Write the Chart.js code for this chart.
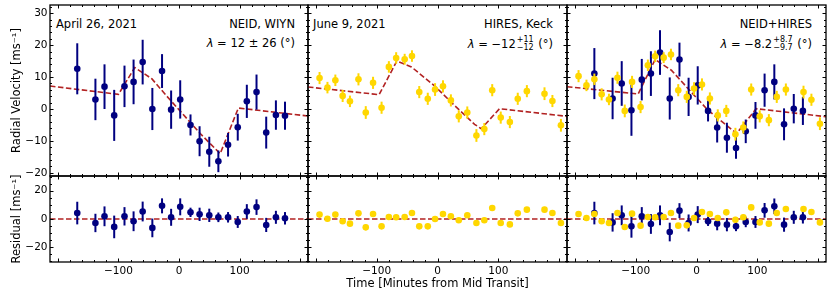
<!DOCTYPE html>
<html>
<head>
<meta charset="utf-8">
<script src="https://cdn.jsdelivr.net/npm/chart.js@4.4.1/dist/chart.umd.min.js"></script>
<style>
  body { margin: 0; background: #fff; }
  #wrap { position: relative; width: 830px; height: 296px; overflow: hidden; font-family: "DejaVu Sans", sans-serif; }
  #wrap canvas { position: absolute; }
  .note { position: absolute; font-size: 11.5px; line-height: 14px; color: #000; white-space: nowrap; }
  .frac { display: inline-flex; flex-direction: column; font-size: 8px; line-height: 8px; vertical-align: middle; margin: 0 1px; }
</style>
</head>
<body>
<div id="wrap">
  <div class="note" style="left:56px;top:17px">April 26, 2021</div>
  <div class="note" style="right:535px;top:17px">NEID, WIYN</div>
  <div class="note" style="right:535px;top:36px"><i>λ</i> = 12 ± 26 (°)</div>

  <div class="note" style="left:313px;top:17px">June 9, 2021</div>
  <div class="note" style="right:277px;top:17px">HIRES, Keck</div>
  <div class="note" style="right:277px;top:36px"><i>λ</i> = −12<span class="frac"><span>+11</span><span>−12</span></span> (°)</div>

  <div class="note" style="right:18px;top:17px">NEID+HIRES</div>
  <div class="note" style="right:18px;top:36px"><i>λ</i> = −8.2<span class="frac"><span>+8.7</span><span>−9.7</span></span> (°)</div>
</div>
<script>
// ---- data ----
const xMin = -213, xMax = 213;
const rvMin = -21, rvMax = 32.6;
const resMin = -30.4, resMax = 30.4;
const xTicks = [-100, 0, 100];
const rvTicks = [-20, -10, 0, 10, 20, 30];
const resTicks = [-20, 0, 20];

// NEID (April 26, 2021)
const neidTime = [-168, -138, -123, -107, -90, -75, -60, -44, -28, -13, 2, 19, 34, 50, 65, 81, 97, 112, 128, 144, 160, 175];
const neidRV = [12.6, 3.0, 7.0, -2.0, 7.1, 8.5, 14.7, 0.0, 11.9, -0.2, 3.0, -5.0, -10.1, -13.4, -16.4, -11.2, -5.7, 2.4, 5.3, -7.4, -1.9, -2.1];
const neidErr = [8.0, 6.5, 7.0, 8.0, 6.5, 7.0, 7.0, 6.6, 5.3, 6.0, 6.0, 3.3, 4.7, 4.7, 3.4, 3.7, 4.2, 5.2, 5.5, 5.0, 4.6, 4.4];
const neidResid = [4.2, -2.8, 1.9, -5.6, 1.9, -1.6, 5.3, -6.3, 9.3, 1.2, 8.6, 4.7, 3.3, 2.6, 1.2, 1.2, -2.1, 5.3, 8.4, -4.2, 1.2, 0.5];
// NEID in the joint fit
const neidRVJoint = [11.1, 3.3, 8.0, -0.4, 9.2, 11.1, 17.7, 3.3, 15.5, 3.8, 7.4, -0.6, -5.8, -9.0, -12.2, -7.0, -2.0, 5.9, 8.5, -4.8, 0.1, -0.6];
const neidResidJoint = [4.2, -2.4, 2.6, -5.2, 1.9, -3.5, 2.6, -9.2, 5.9, -2.8, 3.1, -1.6, -3.3, -4.0, -5.2, -2.1, -2.1, 6.1, 9.0, -4.0, 1.2, 1.2];

// HIRES (June 9, 2021)
const hiresTime = [-194, -181, -168, -156, -144, -130, -118, -106, -92, -80, -68, -54, -42, -30, -16, -4, 9, 22, 35, 49, 64, 77, 90, 104, 119, 132, 147, 176, 189, 203];
const hiresRV = [9.7, 6.7, 9.0, 4.1, 2.4, 9.3, -1.1, 8.2, 0.4, 13.2, 16.0, 15.6, 16.6, 5.3, 3.2, 6.1, 7.1, 2.7, -2.3, -1.1, -8.3, -6.3, 5.9, -2.7, -4.1, 3.2, 5.6, 4.8, 2.5, -5.1];
const hiresErr = [1.9, 1.8, 1.8, 1.9, 1.8, 1.9, 2.0, 1.9, 1.9, 1.8, 1.8, 1.7, 1.8, 1.9, 1.9, 2.0, 1.9, 1.9, 1.9, 1.9, 2.0, 1.9, 1.9, 1.9, 1.9, 1.9, 1.9, 2.0, 1.9, 2.0];
const hiresResid = [3.1, 0.2, 3.1, -1.6, -3.3, 4.0, -5.9, 3.5, -5.2, 1.4, 1.2, 1.4, 4.2, -5.2, -5.2, 0.0, 3.5, 1.9, -0.9, 2.6, -2.8, -0.9, 7.8, -2.8, -3.8, 4.0, 6.6, 6.6, 4.2, -2.8];
// HIRES in the joint fit
const hiresRVJoint = [10.3, 7.4, 9.3, 4.6, 3.0, 9.8, -0.6, 8.5, 0.6, 13.7, 16.5, 16.1, 17.1, 5.9, 3.8, 6.4, 7.7, 3.3, -2.0, -0.6, -7.9, -5.8, 6.1, -2.3, -3.5, 3.8, 6.1, 5.3, 2.9, -4.6];
const hiresResidJoint = [3.5, 0.7, 3.5, -1.6, -2.8, 4.2, -5.7, 3.8, -4.7, 1.4, 1.2, 1.4, 4.2, -4.7, -4.5, 0.7, 4.9, 3.5, 0.7, 4.7, -0.5, 1.2, 8.2, -2.4, -3.3, 4.2, 7.1, 7.1, 4.9, -2.4];

// best-fit RM models (dashed)
const modelNeidT = [-213, -100, -73, -45, -20, 5, 35, 68, 98, 213];
const modelNeidV = [7.2, 4.6, 13.0, 9.5, 4.0, -1.3, -7.7, -14.0, 0.3, -2.2];
const modelHiresT = [-213, -96, -67, -43, -4, 28, 61, 72, 102, 213];
const modelHiresV = [6.9, 4.5, 15.0, 13.2, 7.1, 1.1, -4.8, -6.2, 0.1, -2.3];
const modelJointT = [-213, -96, -68, -41, -14, 19, 46, 66, 98, 213];
const modelJointV = [7.0, 4.7, 15.5, 12.1, 6.4, -0.4, -4.6, -7.7, 0.1, -2.4];
const zeroT = [-213, 213];
const zeroV = [0, 0];

const NAVY = '#000080', GOLD = '#FFD700', RED = '#B22222';

const pts = (ts, vs) => ts.map((t, i) => ({ x: t, y: vs[i] }));
const fmt = v => (v < 0 ? '\u2212' + Math.abs(v) : String(v));

const model = (ts, vs) => ({
  data: pts(ts, vs), showLine: true, borderColor: RED, borderWidth: 1.6,
  borderDash: [5.5, 2.5], pointRadius: 0, order: 3
});
const obs = (ts, vs, es, color, order) => ({
  data: pts(ts, vs), errors: es, backgroundColor: color, borderWidth: 0,
  pointRadius: 3.3, order: order
});

// vertical error bars, drawn under each dataset's own points
const errorBars = {
  id: 'errorBars',
  beforeDatasetDraw(chart, args) {
    const ds = chart.data.datasets[args.index];
    if (!ds.errors) return;
    const { ctx, chartArea: a, scales: { x, y } } = chart;
    ctx.save();
    ctx.beginPath();
    ctx.rect(a.left, a.top, a.width, a.height);
    ctx.clip();
    ctx.strokeStyle = ds.backgroundColor;
    ctx.lineWidth = 2;
    ds.data.forEach((p, i) => {
      const px = x.getPixelForValue(p.x);
      ctx.beginPath();
      ctx.moveTo(px, y.getPixelForValue(p.y - ds.errors[i]));
      ctx.lineTo(px, y.getPixelForValue(p.y + ds.errors[i]));
      ctx.stroke();
    });
    ctx.restore();
  }
};

// black frame with inward major/minor ticks on all sides
const frameTicks = {
  id: 'frameTicks',
  afterDraw(chart, args, o) {
    const { ctx, chartArea: a, scales: { x, y } } = chart;
    ctx.save();
    ctx.strokeStyle = '#000';
    ctx.lineWidth = 1;
    ctx.beginPath();
    for (let v = Math.ceil(x.min / o.xMinor) * o.xMinor; v <= x.max; v += o.xMinor) {
      const px = Math.round(x.getPixelForValue(v)) + 0.5;
      const len = Math.abs(v % o.xMajor) < 1e-6 ? 3.5 : 2;
      ctx.moveTo(px, a.bottom); ctx.lineTo(px, a.bottom - len);
      ctx.moveTo(px, a.top); ctx.lineTo(px, a.top + len);
    }
    for (let v = Math.ceil(y.min / o.yMinor) * o.yMinor; v <= y.max; v += o.yMinor) {
      const py = Math.round(y.getPixelForValue(v)) + 0.5;
      const len = Math.abs(v % o.yMajor) < 1e-6 ? 3.5 : 2;
      ctx.moveTo(a.left, py); ctx.lineTo(a.left + len, py);
      ctx.moveTo(a.right, py); ctx.lineTo(a.right - len, py);
    }
    ctx.stroke();
    ctx.lineWidth = 1.3;
    ctx.strokeRect(a.left, a.top, a.width, a.height);
    ctx.restore();
  }
};

const tickFont = { family: 'DejaVu Sans', size: 10.5 };
const titleFont = { family: 'DejaVu Sans', size: 11.5 };
const noPad = s => { s.paddingTop = 0; s.paddingBottom = 0; s.paddingLeft = 0; s.paddingRight = 0; };

// col: chart-area left/right; row: chart-area top/bottom
const cols = [{ l: 50, r: 308, ml: 50 }, { l: 308, r: 567, ml: 4 }, { l: 567, r: 826, ml: 4 }];
const rows = [{ t: 5, b: 176, mt: 5 }, { t: 176, b: 262, mt: 4 }];

function panel(ci, ri, datasets) {
  const col = cols[ci], row = rows[ri];
  const mr = 4, mb = ri === 0 ? 4 : 296 - row.b;
  const c = document.createElement('canvas');
  c.width = col.ml + (col.r - col.l) + mr;
  c.height = row.mt + (row.b - row.t) + mb;
  c.style.left = (col.l - col.ml) + 'px';
  c.style.top = (row.t - row.mt) + 'px';
  document.getElementById('wrap').appendChild(c);
  const top = ri === 0;
  new Chart(c, {
    type: 'scatter',
    data: { datasets },
    options: {
      responsive: false,
      animation: false,
      events: [],
      layout: { padding: { left: 0, top: row.mt, right: mr, bottom: 0 } },
      plugins: {
        legend: { display: false },
        tooltip: { enabled: false },
        frameTicks: top ? { xMinor: 20, xMajor: 100, yMinor: 2, yMajor: 10 }
                        : { xMinor: 20, xMajor: 100, yMinor: 5, yMajor: 20 }
      },
      scales: {
        x: {
          type: 'linear', min: xMin, max: xMax, bounds: 'data',
          grid: { display: false, drawTicks: false }, border: { display: false },
          ticks: { display: !top, font: tickFont, color: '#000', padding: 3, maxRotation: 0, autoSkip: false, callback: fmt },
          afterBuildTicks: s => { s.ticks = xTicks.map(v => ({ value: v })); },
          afterFit: s => { s.height = mb; noPad(s); },
          title: { display: !top && ci === 1, text: 'Time [Minutes from Mid Transit]', font: titleFont, color: '#000', padding: { top: 0, bottom: 5.5 } }
        },
        y: {
          type: 'linear', min: top ? rvMin : resMin, max: top ? rvMax : resMax, bounds: 'data',
          grid: { display: false, drawTicks: false }, border: { display: false },
          ticks: { display: ci === 0, font: tickFont, color: '#000', padding: 2.5, autoSkip: false, callback: fmt },
          afterBuildTicks: s => { s.ticks = (top ? rvTicks : resTicks).map(v => ({ value: v })); },
          afterFit: s => { s.width = col.ml; noPad(s); },
          title: { display: ci === 0, text: top ? 'Radial Velocity [ms\u207B\u00B9]' : 'Residual [ms\u207B\u00B9]', font: titleFont, color: '#000', padding: { top: 10.6, bottom: 0 } }
        }
      }
    },
    plugins: [errorBars, frameTicks]
  });
}

panel(0, 0, [model(modelNeidT, modelNeidV), obs(neidTime, neidRV, neidErr, NAVY, 2)]);
panel(1, 0, [model(modelHiresT, modelHiresV), obs(hiresTime, hiresRV, hiresErr, GOLD, 1)]);
panel(2, 0, [model(modelJointT, modelJointV), obs(neidTime, neidRVJoint, neidErr, NAVY, 2), obs(hiresTime, hiresRVJoint, hiresErr, GOLD, 1)]);
panel(0, 1, [model(zeroT, zeroV), obs(neidTime, neidResid, neidErr, NAVY, 2)]);
panel(1, 1, [model(zeroT, zeroV), obs(hiresTime, hiresResid, hiresErr, GOLD, 1)]);
panel(2, 1, [model(zeroT, zeroV), obs(neidTime, neidResidJoint, neidErr, NAVY, 2), obs(hiresTime, hiresResidJoint, hiresErr, GOLD, 1)]);
</script>
</body>
</html>
